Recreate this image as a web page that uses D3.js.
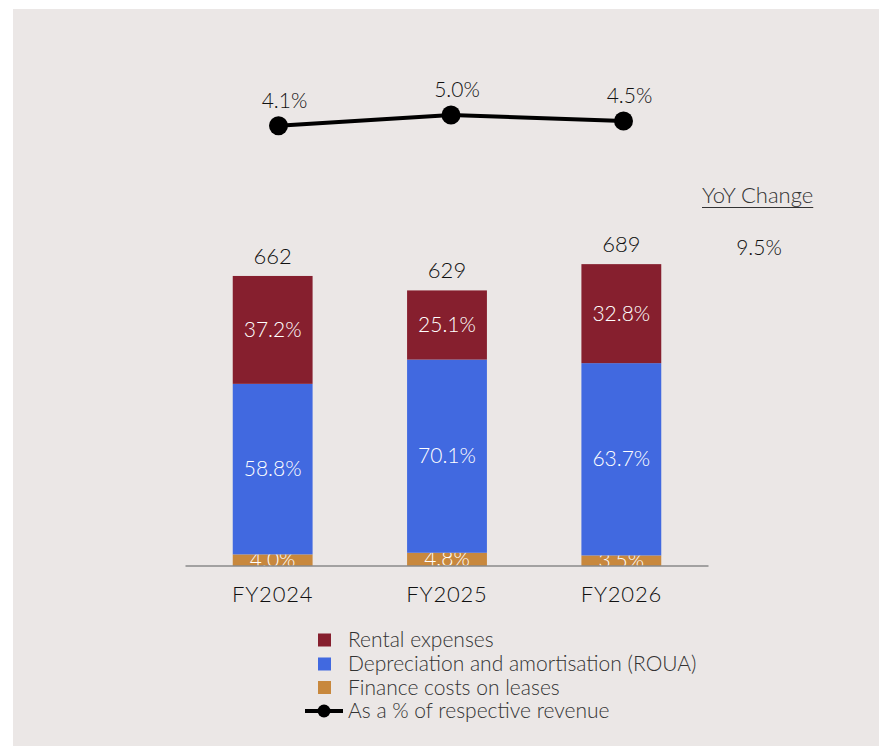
<!DOCTYPE html>
<html>
<head>
<meta charset="utf-8">
<script src="https://cdn.jsdelivr.net/npm/d3@7"></script>
<style>
  html, body { margin: 0; padding: 0; background: #ffffff; }
  svg { display: block; font-family: Lato, "Open Sans", sans-serif; font-weight: 300; }
</style>
</head>
<body>
<svg id="chart" width="879" height="747"></svg>
<script>
// Lease-related cost by fiscal year
const years = ["FY2024", "FY2025", "FY2026"];
const totals = [662, 629, 689];
const rentalPct = [37.2, 25.1, 32.8];
const depreciationPct = [58.8, 70.1, 63.7];
const financePct = [4.0, 4.8, 3.5];
const revenueShare = [4.1, 5.0, 4.5];
const yoyChange = "9.5%";

const seriesNames = ["Finance costs on leases", "Depreciation and amortisation (ROUA)", "Rental expenses"];
const seriesPct = [financePct, depreciationPct, rentalPct];
const colors = {
  "Rental expenses": "#861f2e",
  "Depreciation and amortisation (ROUA)": "#4169e0",
  "Finance costs on leases": "#c8883d"
};

const svg = d3.select("#chart");

// panel background
svg.append("rect")
  .attr("x", 13).attr("y", 9).attr("width", 866).attr("height", 737)
  .attr("fill", "#ebe7e6");

const baseY = 566;
const x = d3.scaleBand().domain(years).range([185.5, 708.5]).paddingInner(0.542).paddingOuter(0.271);
const y = d3.scaleLinear().domain([0, 800]).range([baseY, baseY - 350.5]);

// stacked segments built from the percentage shares of each total
const stackRows = years.map((yr, i) => {
  const row = { year: yr };
  seriesNames.forEach((s, k) => { row[s] = totals[i] * seriesPct[k][i] / 100; });
  return row;
});
const stacked = d3.stack().keys(seriesNames)(stackRows);

svg.append("defs").append("clipPath").attr("id", "plotClip")
  .append("rect").attr("x", 0).attr("y", 0).attr("width", 879).attr("height", baseY);

const plot = svg.append("g").attr("clip-path", "url(#plotClip)");

stacked.forEach((layer, k) => {
  const g = plot.append("g");
  g.selectAll("rect").data(layer).join("rect")
    .attr("x", d => x(d.data.year))
    .attr("width", x.bandwidth())
    .attr("y", d => y(d[1]))
    .attr("height", d => y(d[0]) - y(d[1]))
    .attr("fill", colors[layer.key]);
  g.selectAll("text").data(layer).join("text")
    .attr("x", d => x(d.data.year) + x.bandwidth() / 2)
    .attr("y", d => (y(d[0]) + y(d[1])) / 2 + 7)
    .attr("text-anchor", "middle")
    .attr("fill", "#ffffff")
    .attr("font-size", 21)
    .text((d, i) => seriesPct[k][i].toFixed(1) + "%");
});

// baseline axis
const xAxis = d3.axisBottom(x).tickSize(0).tickPadding(20);
const axisG = svg.append("g").attr("transform", `translate(0,${baseY})`).call(xAxis);
axisG.select(".domain").attr("stroke", "#8a8a8a").attr("stroke-width", 1.5).attr("d", "M185.5,0H708.5");
axisG.selectAll("text").attr("font-size", 22).attr("fill", "#111")
  .attr("font-family", "Lato, sans-serif").attr("font-weight", 300).attr("letter-spacing", 0.8);

// total labels above bars
svg.append("g").selectAll("text").data(totals).join("text")
  .attr("x", (d, i) => x(years[i]) + x.bandwidth() / 2)
  .attr("y", d => y(d) - 12)
  .attr("text-anchor", "middle")
  .attr("font-size", 22)
  .attr("fill", "#111")
  .text(d => d);

// share of revenue line
const xl = d3.scalePoint().domain(years).range([278.5, 623.5]);
const yl = d3.scaleLinear().domain([0, 5]).range([174.5, 115]);
const lineG = svg.append("g");
lineG.append("path")
  .datum(revenueShare)
  .attr("fill", "none").attr("stroke", "#000").attr("stroke-width", 4)
  .attr("d", d3.line().x((d, i) => xl(years[i])).y(d => yl(d)));
lineG.selectAll("circle").data(revenueShare).join("circle")
  .attr("cx", (d, i) => xl(years[i])).attr("cy", d => yl(d)).attr("r", 9.5).attr("fill", "#000");
lineG.selectAll("text").data(revenueShare).join("text")
  .attr("x", (d, i) => xl(years[i]) + 6)
  .attr("y", d => yl(d) - 18)
  .attr("text-anchor", "middle")
  .attr("font-size", 21).attr("fill", "#111")
  .text(d => d.toFixed(1) + "%");

// YoY change note
const yoyText = svg.append("text").attr("x", 702).attr("y", 203)
  .attr("font-size", 22).attr("fill", "#333").text("YoY Change");
const tw = yoyText.node().getComputedTextLength();
svg.append("line").attr("x1", 702).attr("x2", 702 + tw).attr("y1", 207.5).attr("y2", 207.5)
  .attr("stroke", "#333").attr("stroke-width", 1);
svg.append("text").attr("x", 759).attr("y", 255).attr("text-anchor", "middle")
  .attr("font-size", 21).attr("fill", "#111").text(yoyChange);

// legend
const legendItems = ["Rental expenses", "Depreciation and amortisation (ROUA)", "Finance costs on leases"];
const leg = svg.append("g");
const rowY = [640, 664, 687.5, 711];
legendItems.forEach((name, i) => {
  leg.append("rect").attr("x", 318).attr("y", rowY[i] - 6.5).attr("width", 13).attr("height", 13)
    .attr("fill", colors[name]);
  leg.append("text").attr("x", 348).attr("y", rowY[i] + 7).attr("font-size", 21).attr("fill", "#333").text(name);
});
leg.append("line").attr("x1", 305).attr("x2", 343).attr("y1", rowY[3]).attr("y2", rowY[3])
  .attr("stroke", "#000").attr("stroke-width", 4);
leg.append("circle").attr("cx", 324).attr("cy", rowY[3]).attr("r", 6.5).attr("fill", "#000");
leg.append("text").attr("x", 348).attr("y", rowY[3] + 7).attr("font-size", 21).attr("fill", "#333")
  .text("As a % of respective revenue");
</script>
</body>
</html>
